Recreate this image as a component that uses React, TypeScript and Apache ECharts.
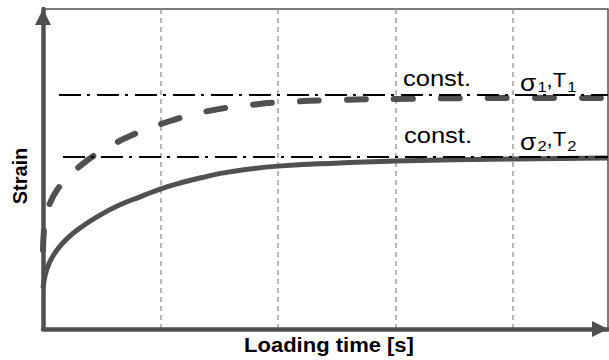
import React, { useEffect, useRef } from "react";
import * as echarts from "echarts";

// ---- data ----
const timeMax = 4.81;
const gridStep = 1;
const strainMax = 10;

// creep curve at sigma1, T1 (dashed)
const curve1Time = [0, 0.0085, 0.026, 0.06, 0.119, 0.204, 0.315, 0.443, 0.587, 0.74, 0.911, 1.081, 1.268, 1.506, 1.762, 2.0, 2.528, 3.0, 4.0, 4.783];
const curve1Strain = [2.47, 3.09, 3.59, 3.94, 4.34, 4.72, 5.09, 5.44, 5.75, 6.03, 6.28, 6.5, 6.69, 6.88, 7.0, 7.08, 7.16, 7.19, 7.22, 7.22];

// creep curve at sigma2, T2 (solid)
const curve2Time = [0, 0.017, 0.043, 0.085, 0.145, 0.23, 0.34, 0.485, 0.655, 0.826, 1.004, 1.166, 1.336, 1.591, 2.0, 2.528, 3.0, 4.0, 4.81];
const curve2Strain = [1.28, 1.66, 1.97, 2.28, 2.59, 2.91, 3.22, 3.56, 3.88, 4.13, 4.38, 4.56, 4.72, 4.91, 5.09, 5.19, 5.25, 5.31, 5.34];

// constant reference levels (dash-dot)
const constLevels = [7.31, 5.375];
const constStarts = [0.136, 0.17];

const constText = "const.";
const xTitle = "Loading time [s]";
const yTitle = "Strain";

const FONT = '"Liberation Sans", Arial, Helvetica, sans-serif';
const AXIS_COLOR = "#505050";

function pairs(xs: number[], ys: number[]) {
  return xs.map((x, i) => [x, ys[i]]);
}

function sigmaLabel(idx: string, x: number, y: number) {
  return {
    type: "text",
    x,
    y,
    scaleX: 1.1,
    z: 10,
    style: {
      text: `{g|σ}{sub|${idx}}{n|,T}{sub|${idx}}`,
      align: "left",
      textAlign: "left",
      verticalAlign: "top",
      textVerticalAlign: "top",
      fill: "#000",
      font: `20px ${FONT}`,
      rich: {
        g: { fontSize: 24, fontFamily: FONT, lineHeight: 14, verticalAlign: "top", fill: "#000" },
        n: { fontSize: 20, fontFamily: FONT, lineHeight: 18, verticalAlign: "top", fill: "#000" },
        sub: { fontSize: 15, fontFamily: FONT, lineHeight: 14, padding: [9, 0, 0, 1], verticalAlign: "top", fill: "#000" },
      },
    },
  };
}

export default function App() {
  const ref = useRef<HTMLDivElement>(null);

  useEffect(() => {
    if (!ref.current) return;
    const chart = echarts.init(ref.current, undefined, { renderer: "svg" });

    const constSeries = constLevels.map((lvl, i) => ({
      type: "line",
      name: `const${i + 1}`,
      data: [
        [constStarts[i], lvl],
        [timeMax, lvl],
      ],
      symbol: "none",
      z: 5,
      lineStyle: { color: "#000", width: 2, type: [22, 6, 3, 7] },
    }));

    chart.setOption({
      animation: false,
      backgroundColor: "#fff",
      grid: {
        left: 43,
        right: 1,
        top: 9,
        bottom: 31,
        show: true,
        borderColor: AXIS_COLOR,
        borderWidth: 1.5,
        backgroundColor: "transparent",
      },
      xAxis: {
        type: "value",
        min: 0,
        max: timeMax,
        interval: gridStep,
        axisLabel: { show: false },
        axisTick: { show: false },
        axisLine: {
          show: true,
          onZero: false,
          symbol: ["none", "triangle"],
          symbolSize: [16, 16],
          symbolOffset: [0, -8],
          lineStyle: { color: AXIS_COLOR, width: 4.5 },
        },
        splitLine: {
          show: true,
          showMinLine: false,
          showMaxLine: false,
          lineStyle: { color: "#a0a0a0", width: 1.5, type: [5, 4] },
        },
      },
      yAxis: {
        type: "value",
        min: 0,
        max: strainMax,
        axisLabel: { show: false },
        axisTick: { show: false },
        splitLine: { show: false },
        axisLine: {
          show: true,
          onZero: false,
          symbol: ["none", "triangle"],
          symbolSize: [16, 16],
          symbolOffset: [0, -8],
          lineStyle: { color: AXIS_COLOR, width: 4.5 },
        },
      },
      series: [
        {
          type: "line",
          name: "sigma1",
          data: pairs(curve1Time, curve1Strain),
          smooth: 0.5,
          symbol: "none",
          z: 3,
          lineStyle: { color: AXIS_COLOR, width: 6, type: [19, 28], cap: "round" },
        },
        {
          type: "line",
          name: "sigma2",
          data: pairs(curve2Time, curve2Strain),
          smooth: 0.5,
          symbol: "none",
          z: 3,
          lineStyle: { color: AXIS_COLOR, width: 5, join: "round" },
        },
        ...constSeries,
      ],
      graphic: [
        {
          type: "text",
          x: 20,
          y: 176,
          rotation: Math.PI / 2,
          style: {
            text: yTitle,
            fill: "#000",
            font: `bold 20px ${FONT}`,
            align: "center",
            textAlign: "center",
            verticalAlign: "middle",
            textVerticalAlign: "middle",
          },
        },
        {
          type: "text",
          x: 329,
          y: 345,
          scaleX: 1.1,
          style: {
            text: xTitle,
            fill: "#000",
            font: `bold 20px ${FONT}`,
            align: "center",
            textAlign: "center",
            verticalAlign: "middle",
            textVerticalAlign: "middle",
          },
        },
        {
          type: "text",
          x: 437,
          y: 78,
          scaleX: 1.16,
          z: 10,
          style: {
            text: constText,
            fill: "#000",
            font: `22px ${FONT}`,
            align: "center",
            textAlign: "center",
            verticalAlign: "middle",
            textVerticalAlign: "middle",
          },
        },
        {
          type: "text",
          x: 438,
          y: 135,
          scaleX: 1.16,
          z: 10,
          style: {
            text: constText,
            fill: "#000",
            font: `22px ${FONT}`,
            align: "center",
            textAlign: "center",
            verticalAlign: "middle",
            textVerticalAlign: "middle",
          },
        },
        sigmaLabel("1", 520, 70),
        sigmaLabel("2", 520, 129),
      ],
    });

    return () => chart.dispose();
  }, []);

  return (
    <div
      ref={ref}
      style={{ position: "fixed", left: 0, top: 0, width: 609, height: 360, background: "#fff" }}
    />
  );
}
